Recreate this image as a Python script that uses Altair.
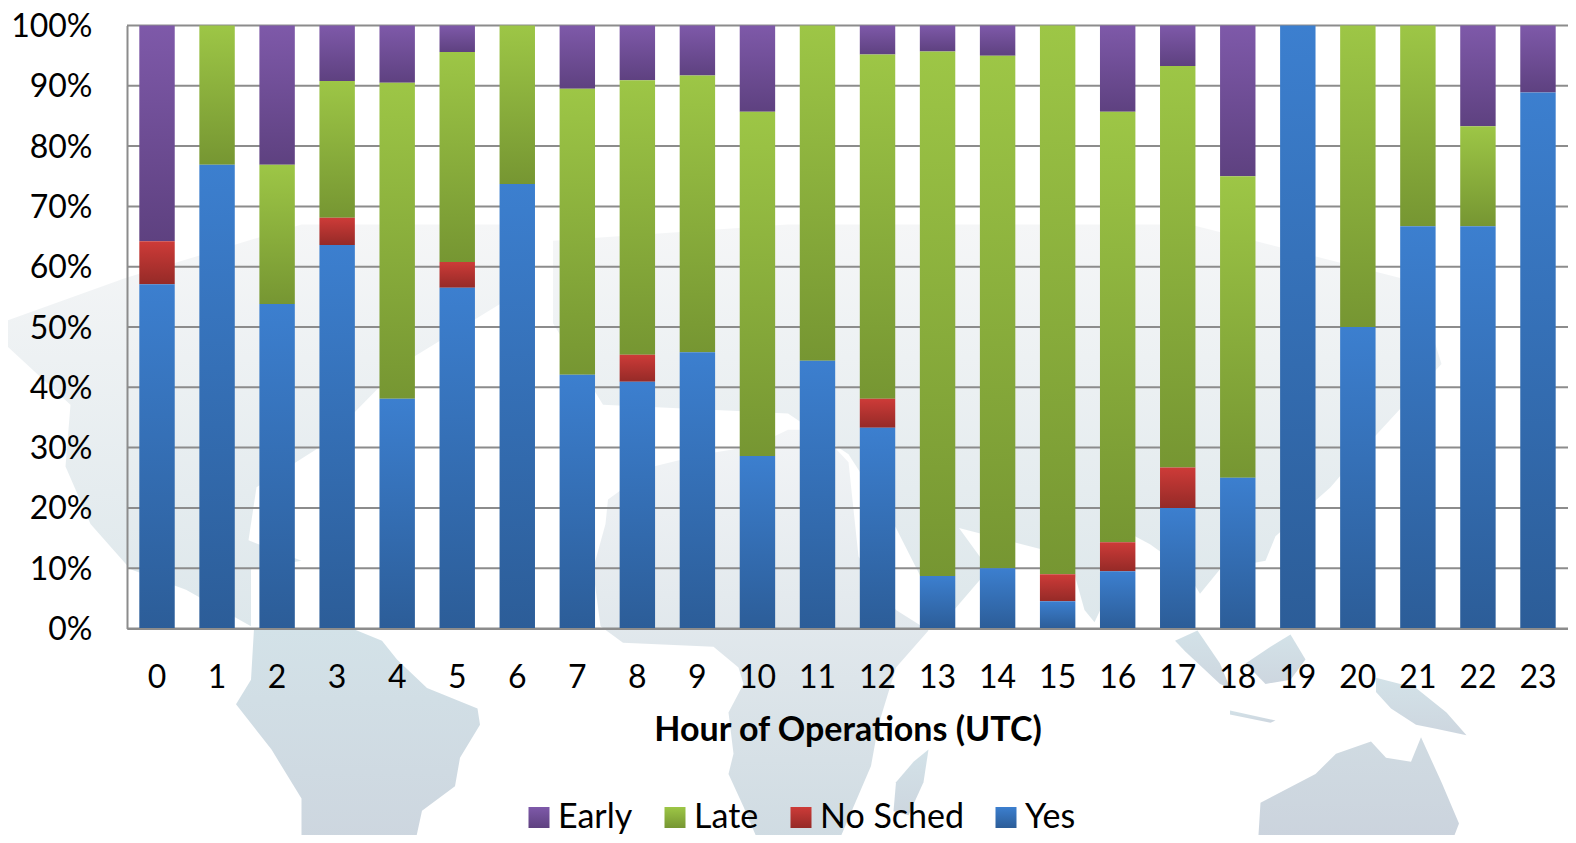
import altair as alt
import pandas as pd

hours = [str(h) for h in range(24)]
series = ["Early", "Late", "No Sched", "Yes"]
yes = [57.1, 76.9, 53.8, 63.6, 38.1, 56.5, 73.7, 42.1, 40.9, 45.8, 28.6, 44.4, 33.3, 8.7, 10.0, 4.5, 9.5, 20.0, 25.0, 100.0, 50.0, 66.7, 66.7, 88.9]
nosched = [7.1, 0, 0, 4.5, 0, 4.3, 0, 0, 4.5, 0, 0, 0, 4.8, 0, 0, 4.5, 4.8, 6.7, 0, 0, 0, 0, 0, 0]
late = [0, 23.1, 23.1, 22.7, 52.4, 34.8, 26.3, 47.4, 45.5, 45.9, 57.1, 55.6, 57.1, 87.0, 85.0, 91.0, 71.4, 66.6, 50.0, 0, 50.0, 33.3, 16.6, 0]
early = [35.8, 0, 23.1, 9.2, 9.5, 4.4, 0, 10.5, 9.1, 8.3, 14.3, 0, 4.8, 4.3, 5.0, 0, 14.3, 6.7, 25.0, 0, 0, 0, 16.7, 11.1]
ticks = list(range(0, 101, 10))
top_colors = ["#7e59a9", "#9dc646", "#cd3b38", "#3c7fcf"]
bottom_colors = ["#5e4180", "#769632", "#952a27", "#2c5d98"]
stack_order = [3, 2, 1, 0]

# Backdrop world map: rough continent outlines
north_america = [[-126, 67.8], [-100.9, 78.9], [-65.7, 92], [-20.5, 92], [-25.5, 72.9], [-45.6, 57.8], [-61.7, 37.7], [-74.7, 27.6], [-76.3, 14.6], [-65.7, 9.6], [-75.8, 7.5], [-75.8, -6.5], [-88.8, 2.5], [-99.9, 7.5], [-107.9, 18.6], [-112.9, 32.7], [-111.9, 47.8], [-126, 63.8]]
eurasia = [[-15.4, 88], [31.6, 92], [112, 92], [157.2, 77.9], [162.3, 57.8], [147.2, 37.7], [140.1, 27.6], [129.1, 15.6], [127.1, 9.6], [118, 7.5], [114, 1.5], [111, 7.5], [104, 13.6], [101, 15.6], [92.9, -5.5], [90.9, -2.5], [87.9, 10.6], [65.8, 17.6], [71.8, 7.5], [64.8, -2.5], [60.7, -0.5], [53.2, 17.6], [43.7, 35.7], [31.6, 45.7], [-5.4, 47.8], [-15.4, 67.8]]
africa = [[-4.9, 18.6], [-7.4, 7.5], [-5.9, -6.5], [-1.4, -10.5], [16.7, -11.5], [21.7, -16.6], [22.7, -20.6], [19.7, -27.6], [20.7, -37.7], [19.7, -42.7], [22.7, -50.7], [25.8, -59.6], [41.6, -59.6], [48.2, -40.7], [49.7, -30.6], [53.2, -16.6], [59.7, -7.5], [53.2, -2.5], [45.7, 10.6], [43.7, 33.7], [37.6, 41.7], [31.6, 41.7], [24.8, 37.7], [14.7, 35.7], [4.7, 32.7], [-4.4, 24.6]]
south_america = [[-75.2, -7], [-55.6, -7], [-49.6, -10], [-46.6, -14.6], [-40.6, -21.6], [-30.5, -26.6], [-30, -30.6], [-34, -38.7], [-35, -45.7], [-41.6, -51.7], [-43, -59.6], [-65.7, -59.6], [-65.7, -48.7], [-71.7, -36.7], [-78.8, -25.6], [-75.8, -19.6]]
madagascar = [[59.7, -36.7], [58.7, -44.7], [55.7, -52.8], [52.7, -51.8], [53.2, -44.7], [56.7, -39.7]]
australia = [[125.6, -59.6], [126.1, -49.7], [137.1, -42.7], [141.2, -37.7], [148.2, -34.7], [151.2, -38.7], [156.2, -39.7], [158.2, -33.7], [162.3, -44.7], [165.8, -54.8], [164.3, -59.6]]
new_guinea = [[149.2, -19.1], [157.2, -21.6], [163.3, -27.6], [167.3, -33.2], [161.2, -31.6], [157.2, -30.6], [152.2, -26.6], [149.2, -22.6]]
borneo = [[132.1, -8.5], [135.1, -14.6], [132.1, -19.6], [127.1, -20.6], [123.1, -15.6], [128.1, -11.5]]
sumatra = [[113.5, -7.5], [118, -15.6], [120, -21.6], [118, -20.6], [111, -12.6], [109, -10]]
java = [[120, -27.1], [129.1, -29.6], [128.1, -30.1], [120, -28.1]]

rows = []
for name, vals, o in zip(series, [early, late, nosched, yes], stack_order):
    for h, v in zip(hours, vals):
        rows.append({"hour": h, "series": name, "value": v, "o": o})
df = pd.DataFrame(rows)


def grad(a, b):
    return alt.ExprRef(
        "{gradient:'linear',x1:0,y1:0,x2:0,y2:1,stops:[{offset:0,color:'%s'},{offset:1,color:'%s'}]}" % (a, b)
    )


def land(polys):
    # the backdrop's map projection is vertically squashed relative to its width
    feats = []
    for p in polys:
        ring = [[lon, round(18.03 + 0.816 * lat, 2)] for lon, lat in p]
        feats.append({"type": "Feature", "properties": {},
                      "geometry": {"type": "Polygon", "coordinates": [ring + [ring[0]]]}})
    return alt.InlineData(values={"type": "FeatureCollection", "features": feats},
                          format=alt.DataFormat(property="features", type="json"))


def land_layer(polys, a, b):
    return alt.Chart(land(polys)).mark_geoshape(
        stroke=None, clip=False,
        fill=alt.Gradient(gradient="linear", x1=0, y1=0, x2=0, y2=1,
                          stops=[alt.GradientStop(offset=0, color=a), alt.GradientStop(offset=1, color=b)]),
    ).project(type="identity", reflectY=True, scale=5, translate=[503, 664.5])


FONT = "Lato"
y_scale = alt.Scale(domain=[0, 100], nice=False)
x_enc = alt.X(
    "hour:N", sort=hours, title="Hour of Operations (UTC)",
    scale=alt.Scale(paddingInner=0.41, paddingOuter=0.205),
    axis=alt.Axis(labelAngle=0, labelFontSize=32, labelColor="#000", labelFont=FONT, labelPadding=34,
                  ticks=False, domainColor="#8c8c8c", domainWidth=2, zindex=1,
                  titleFont=FONT, titleFontSize=34, titleFontWeight="bold", titleColor="#000", titlePadding=20),
)
grid = alt.Chart(pd.DataFrame({"t": ticks})).mark_rule(color="#8c8c8c", strokeWidth=2).encode(
    y=alt.Y("t:Q", scale=y_scale, title=None,
            axis=alt.Axis(values=ticks, labelExpr="datum.value + '%'", labelFontSize=32, labelColor="#000",
                          labelFont=FONT, labelPadding=35, labelOffset=1, ticks=False, domainColor="#8c8c8c",
                          domainWidth=2, grid=False, zindex=1))
)
bars = alt.Chart(df).mark_bar().encode(
    x=x_enc,
    y=alt.Y("value:Q", stack="zero", scale=y_scale),
    order=alt.Order("o:Q"),
    color=alt.Color(
        "series:N",
        scale=alt.Scale(domain=series, range=[grad(a, b) for a, b in zip(top_colors, bottom_colors)]),
        legend=alt.Legend(orient="none", legendX=395, legendY=775, direction="horizontal", columns=4, title=None,
                          symbolType="square", symbolSize=441, symbolStrokeWidth=0, symbolOpacity=1,
                          labelFont=FONT, labelFontSize=34, labelColor="#000", labelOffset=2, columnPadding=25),
    ),
)
chart = alt.layer(
    land_layer([north_america, eurasia], "#f5f6f7", "#dde7eb"),
    land_layer([africa], "#f2f4f6", "#cfdbe2"),
    land_layer([south_america, madagascar, new_guinea, borneo, sumatra, java], "#d3e2e8", "#cdd6df"),
    land_layer([australia], "#d0dbe2", "#cbd3dd"),
    grid,
    bars,
).properties(
    width=1441, height=603,
    autosize=alt.AutoSizeParams(type="none"),
    padding={"left": 119, "top": 17.5, "right": 0, "bottom": 206},
).configure_view(stroke=None).configure_axis(grid=False)
chart.save("out.html", embed_options={"renderer": "svg", "actions": False})
